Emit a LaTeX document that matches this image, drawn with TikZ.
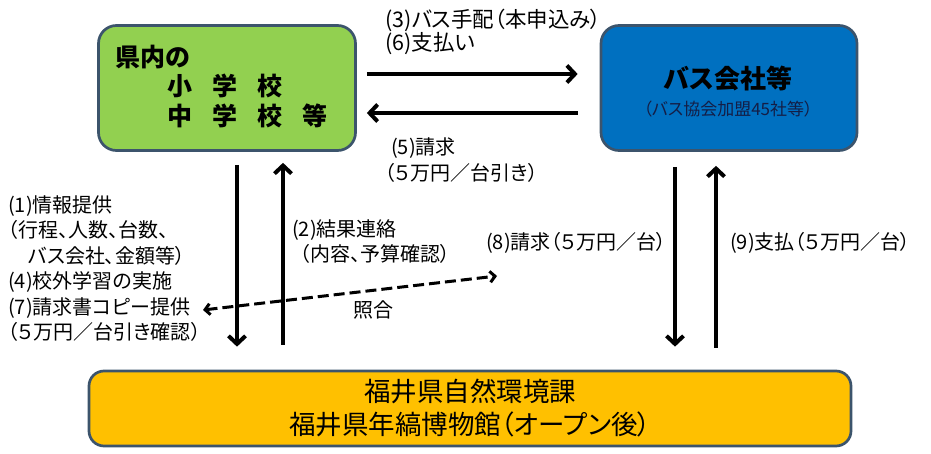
\documentclass[tikz,border=0pt]{standalone}
\usepackage{fontspec}
\setmainfont{Noto Sans CJK JP}[RawFeature=+palt]
\usetikzlibrary{arrows.meta}

\begin{document}
\begin{tikzpicture}[x=1pt,y=1pt,yscale=-1,xscale=1,
  box/.style={draw={rgb, 255:red, 60; green, 84; blue, 108 }, line width=2.7pt, rounded corners=18pt, inner sep=0pt},
  arr/.style={line width=4pt, -{Straight Barb[length=8pt,width=17pt]}},
  darr/.style={line width=3pt, dash pattern=on 11pt off 5pt, {Straight Barb[length=5pt,width=11pt]}-{Straight Barb[length=5pt,width=11pt]}},
  lbl/.style={anchor=west, align=left, inner sep=0pt, font=\fontsize{20}{25.5}\selectfont}
]
\useasboundingbox (0,0) rectangle (931,454);

%Shape: Rounded Rect [school]
\node [box, fill={rgb, 255:red, 146; green, 208; blue, 80 }, minimum width=257pt, minimum height=125pt] (school) at (227,88) {};
%Shape: Rounded Rect [bus]
\node [box, fill={rgb, 255:red, 0; green, 112; blue, 192 }, minimum width=256pt, minimum height=125pt] (bus) at (729,88) {};
%Shape: Rounded Rect [office]
\node [box, rounded corners=15pt, fill={rgb, 255:red, 255; green, 192; blue, 0 }, minimum width=762pt, minimum height=75pt, align=center, font=\fontsize{26.5}{33}\selectfont] (office) at (470,408.5) {福井県自然環境課\\福井県年縞博物館（オープン後）};

% Text Node
\node [anchor=west, align=left, inner sep=0pt, font=\bfseries\fontsize{25}{29.5}\selectfont] (schooltxt) at (115,86.5) {県内の\\\hspace*{52pt}小\hspace{20pt}学\hspace{20pt}校\\\hspace*{52pt}中\hspace{20pt}学\hspace{20pt}校\hspace{20pt}等};
% Text Node
\node [align=center, inner sep=0pt, font=\fontsize{17}{27}\selectfont, color={rgb, 255:red, 20; green, 30; blue, 70 }] (bustxt) at (728,91.5) {{\bfseries\fontsize{26}{27}\selectfont\color{black}バス会社等}\\（バス協会加盟45社等）};

%Straight Lines [order]
\draw [arr, shorten <=10pt, shorten >=22pt] ([yshift=-14pt]school.east) -- ([yshift=-14pt]bus.west);
%Straight Lines [claim]
\draw [arr, shorten <=22pt, shorten >=10pt] ([yshift=25pt]bus.west) -- ([yshift=25pt]school.east);
%Straight Lines [school down]
\draw [arr, shorten <=13pt, shorten >=23pt] ([xshift=10pt]school.south) -- ([xshift=10pt]school.south |- office.north);
%Straight Lines [school up]
\draw [arr, shorten <=25pt, shorten >=11pt] ([xshift=56pt]school.south |- office.north) -- ([xshift=56pt]school.south);
%Straight Lines [bus down]
\draw [arr, shorten <=15pt, shorten >=23pt] ([xshift=-54pt]bus.south) -- ([xshift=-54pt]bus.south |- office.north);
%Straight Lines [bus up]
\draw [arr, shorten <=22pt, shorten >=14pt] ([xshift=-13pt]bus.south |- office.north) -- ([xshift=-13pt]bus.south);

%Dashed Lines [check]
\coordinate (copyend) at (203,310);
\coordinate (billend) at (497,276);
\draw [darr] (copyend) -- (billend);

% Text Node
\node [lbl, font=\fontsize{21.5}{23}\selectfont] (orderlbl) at (385,31.5) {(3)バス手配（本申込み）\\(6)支払い};
% Text Node
\node [lbl] (claimlbl) at (385,160) {\hspace*{6pt}(5)請求\\（５万円／台引き）};
% Text Node
\node [lbl] (infolbl) at (8,268.5) {(1)情報提供\\（行程、人数、台数、\\　バス会社、金額等）\\(4)校外学習の実施\\(7)請求書コピー提供\\（５万円／台引き確認）};
% Text Node
\node [lbl] (resultlbl) at (292,241.5) {(2)結果連絡\\\hspace*{8pt}（内容、予算確認）};
% Text Node
\node [lbl] (checklbl) at (353,310) {照合};
% Text Node
\node [lbl] (billlbl) at (486,243) {(8)請求（５万円／台）};
% Text Node
\node [lbl] (paylbl) at (730,243) {(9)支払（５万円／台）};

\end{tikzpicture}
\end{document}
